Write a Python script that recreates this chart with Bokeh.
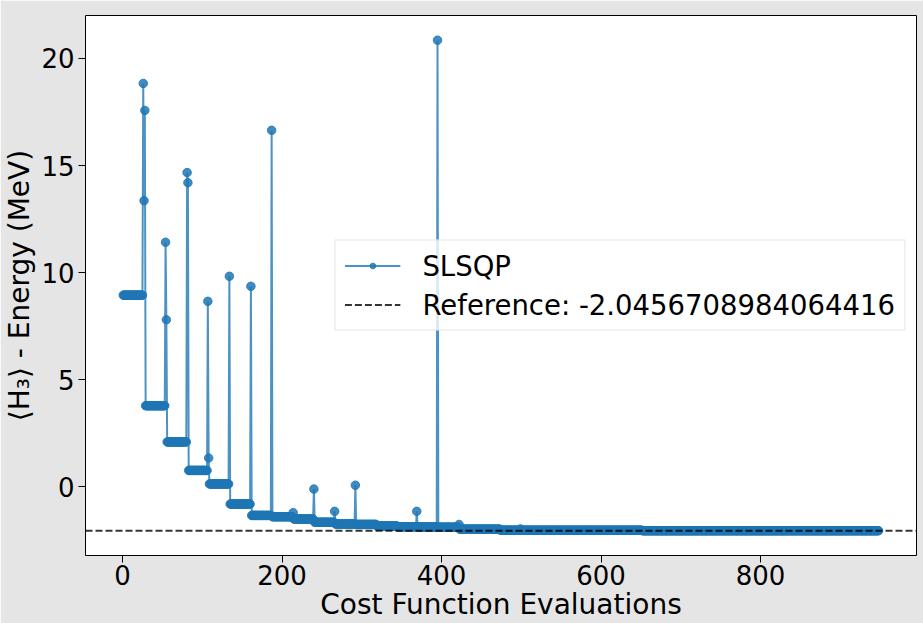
import numpy as np
from bokeh.plotting import figure
from bokeh.models import Range1d, FixedTicker, Span, Legend, LegendItem
from bokeh.embed import file_html
from bokeh.resources import INLINE

# Run-length description of the SLSQP trace (value, number of consecutive evaluations)
run_values = [8.95, 18.83, 13.36, 17.57, 3.79, 11.42, 7.80, 2.10, 14.67, 14.20,
              0.77, 8.66, 1.35, 0.14, 9.83, -0.80, 9.36, -1.33, 16.64, -1.39,
              -1.20, -1.50, -0.10, -1.65, -1.14, -1.73, 0.08, -1.75, -1.82, -1.86,
              -1.14, -1.87, 20.85, -1.88, -1.75, -1.97, -2.02, -1.96, -2.02, -2.044]
run_counts = [25, 1, 1, 1, 25, 1, 1, 25, 1, 1,
              24, 1, 1, 25, 1, 26, 1, 25, 1, 26,
              1, 25, 1, 25, 1, 25, 1, 26, 26, 24,
              1, 25, 1, 26, 1, 51, 25, 1, 152, 297]
reference_energy = -2.0456708984064416
x_ticks = [0, 200, 400, 600, 800]
y_ticks = [0, 5, 10, 15, 20]

energies = np.repeat(run_values, run_counts)
evals = np.arange(1, len(energies) + 1)

BLUE = "#1f77b4"
FONT = "DejaVu Sans"

p = figure(width=923, height=623, output_backend="svg", toolbar_location=None,
           x_range=Range1d(-46.4, 995.6), y_range=Range1d(-3.2, 22.0),
           min_border_left=85, min_border_right=7, min_border_top=15, min_border_bottom=68)

p.background_fill_color = "white"
p.border_fill_color = "#e5e5e5"
p.outline_line_color = "black"
p.outline_line_width = 1
p.xgrid.visible = False
p.ygrid.visible = False

ref_span = Span(location=reference_energy, dimension="width", line_color="black",
                line_alpha=0.8, line_width=2, line_dash="7 3")
p.add_layout(ref_span)

ln = p.line(evals, energies, line_color=BLUE, line_width=2, line_alpha=0.8)
sc = p.scatter(evals, energies, size=8.5, fill_color=BLUE, line_color=BLUE,
               fill_alpha=0.85, line_alpha=0.85)
dummy = p.line(evals[:1], [reference_energy], line_color="black", line_alpha=0.8,
               line_width=2, line_dash="7 3")

for ax in (p.xaxis[0], p.yaxis[0]):
    ax.axis_line_color = None
    ax.major_tick_in = 0
    ax.major_tick_out = 7
    ax.major_tick_line_color = "black"
    ax.minor_tick_line_color = None
    ax.major_label_text_font = FONT
    ax.major_label_text_font_size = "26px"
    ax.major_label_text_color = "black"
    ax.axis_label_text_font = FONT
    ax.axis_label_text_font_size = "28px"
    ax.axis_label_text_font_style = "normal"
    ax.axis_label_text_color = "black"

p.xaxis.ticker = FixedTicker(ticks=x_ticks)
p.yaxis.ticker = FixedTicker(ticks=y_ticks)
p.xaxis.axis_label = "Cost Function Evaluations"
p.yaxis.axis_label = "⟨H₃⟩ - Energy (MeV)"
p.xaxis.major_label_standoff = 2
p.xaxis.axis_label_standoff = 0
p.yaxis.major_label_standoff = 4
p.yaxis.axis_label_standoff = 2

legend = Legend(items=[LegendItem(label="SLSQP", renderers=[ln, sc]),
                       LegendItem(label="Reference: " + repr(reference_energy), renderers=[dummy])],
                location="right", margin=11, padding=9, spacing=7,
                glyph_width=56, glyph_height=14, label_height=30, label_standoff=22,
                label_text_font=FONT, label_text_font_size="27.5px", label_text_color="black",
                border_line_color="#cccccc", border_line_width=1,
                background_fill_color="white", background_fill_alpha=0.8)
p.add_layout(legend)

open("out.html", "w").write(file_html(p, INLINE))
